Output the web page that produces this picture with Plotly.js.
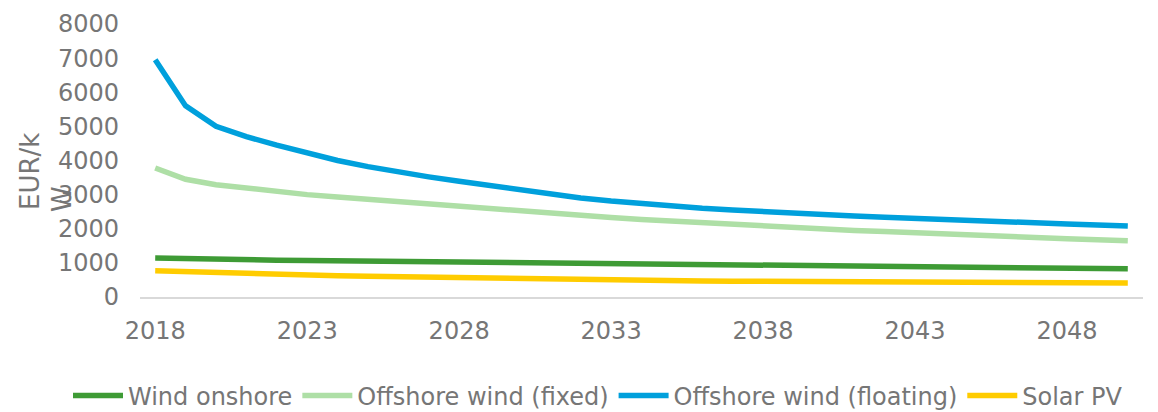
<!DOCTYPE html>
<html>
<head>
<meta charset="utf-8">
<script src="https://cdn.plot.ly/plotly-3.0.1.min.js"></script>
<style>
html, body { margin: 0; padding: 0; background: #fff; }
#chart { width: 1158px; height: 412px; }
</style>
</head>
<body>
<div id="chart"></div>
<script>
const years = [];
for (let y = 2018; y <= 2050; y++) years.push(y);

const seriesNames = ["Wind onshore", "Offshore wind (fixed)", "Offshore wind (floating)", "Solar PV"];

const windOnshore = [1140, 1115, 1100, 1090, 1080, 1070, 1060, 1050, 1040, 1030, 1020, 1010, 1000, 985, 975, 960, 950, 940, 930, 920, 910, 900, 895, 885, 875, 870, 860, 855, 850, 845, 840, 830, 825];
const offshoreFixed = [3780, 3450, 3290, 3180, 3090, 3000, 2930, 2860, 2790, 2710, 2640, 2580, 2510, 2450, 2390, 2330, 2270, 2220, 2170, 2120, 2070, 2020, 1980, 1950, 1920, 1880, 1850, 1810, 1780, 1740, 1710, 1680, 1650];
const offshoreFloating = [6950, 5600, 5000, 4700, 4450, 4220, 4000, 3820, 3660, 3520, 3390, 3260, 3130, 3010, 2900, 2810, 2730, 2660, 2600, 2550, 2500, 2450, 2410, 2370, 2340, 2300, 2270, 2240, 2200, 2170, 2140, 2110, 2080];
const solarPV = [770, 740, 710, 685, 665, 645, 625, 605, 590, 575, 560, 545, 530, 515, 500, 490, 480, 475, 470, 465, 460, 455, 450, 447, 444, 440, 437, 434, 430, 425, 420, 417, 413];

const xTickVals = [2018, 2023, 2028, 2033, 2038, 2043, 2048];
const yTickVals = [0, 1000, 2000, 3000, 4000, 5000, 6000, 7000, 8000];
const yTitleLines = ["EUR/k", "W"];

const colors = ["#3E9B35", "#AEDFA6", "#00A0DC", "#FFCC00"];
const values = [windOnshore, offshoreFixed, offshoreFloating, solarPV];

const FONT = "DejaVu Sans, Verdana, sans-serif";
const GRAY = "#767676";

const traces = values.map((v, i) => ({
  type: "scatter",
  mode: "lines",
  name: seriesNames[i],
  x: years,
  y: v,
  line: { color: colors[i], width: 5.5 },
  hoverinfo: "skip"
}));

const layout = {
  width: 1158,
  height: 412,
  margin: { l: 140, r: 15, t: 24, b: 115, autoexpand: false },
  paper_bgcolor: "#ffffff",
  plot_bgcolor: "#ffffff",
  font: { family: FONT, color: GRAY, size: 24 },
  showlegend: true,
  legend: {
    orientation: "h",
    xref: "paper",
    x: (68 - 140) / 1003,
    xanchor: "left",
    yref: "paper",
    y: (297 - 396) / 273,
    yanchor: "middle",
    font: { family: FONT, color: GRAY, size: 24 },
    itemwidth: 50,
    bgcolor: "rgba(0,0,0,0)"
  },
  xaxis: {
    range: [2017.5, 2050.5],
    tickvals: xTickVals,
    ticktext: xTickVals.map(String),
    showgrid: false,
    zeroline: false,
    showline: true,
    linecolor: "#D9D9D9",
    linewidth: 1.5,
    ticks: "",
    ticklabelstandoff: 12,
    tickfont: { family: FONT, color: GRAY, size: 24 },
    fixedrange: true
  },
  yaxis: {
    range: [0, 8000],
    tickvals: yTickVals,
    ticktext: yTickVals.map(String),
    showgrid: false,
    zeroline: false,
    showline: false,
    ticks: "",
    ticklabelstandoff: 20,
    tickfont: { family: FONT, color: GRAY, size: 24 },
    fixedrange: true
  },
  annotations: [
    {
      xref: "paper", yref: "paper",
      x: (30 - 140) / 1003, y: (297 - 172) / 273,
      xanchor: "center", yanchor: "middle",
      text: yTitleLines[0], textangle: -90, showarrow: false,
      font: { family: FONT, color: GRAY, size: 26 }
    },
    {
      xref: "paper", yref: "paper",
      x: (62 - 140) / 1003, y: (297 - 199) / 273,
      xanchor: "center", yanchor: "middle",
      text: yTitleLines[1], textangle: -90, showarrow: false,
      font: { family: FONT, color: GRAY, size: 26 }
    }
  ]
};

Plotly.newPlot("chart", traces, layout, { displayModeBar: false, staticPlot: true });
</script>
</body>
</html>
